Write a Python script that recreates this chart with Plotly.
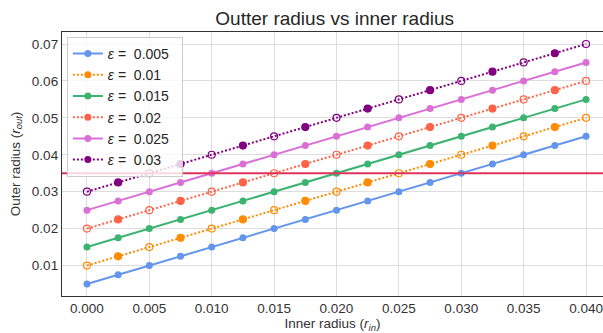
import plotly.graph_objects as go

# Data
inner_radius = [0.0, 0.0025, 0.005, 0.0075, 0.01, 0.0125, 0.015, 0.0175, 0.02,
                0.0225, 0.025, 0.0275, 0.03, 0.0325, 0.035, 0.0375, 0.04]
epsilons = [0.005, 0.01, 0.015, 0.02, 0.025, 0.03]
eps_labels = ["0.005", "0.01", "0.015", "0.02", "0.025", "0.03"]
outer_005 = [0.005, 0.0075, 0.01, 0.0125, 0.015, 0.0175, 0.02, 0.0225, 0.025, 0.0275, 0.03, 0.0325, 0.035, 0.0375, 0.04, 0.0425, 0.045]
outer_010 = [0.01, 0.0125, 0.015, 0.0175, 0.02, 0.0225, 0.025, 0.0275, 0.03, 0.0325, 0.035, 0.0375, 0.04, 0.0425, 0.045, 0.0475, 0.05]
outer_015 = [0.015, 0.0175, 0.02, 0.0225, 0.025, 0.0275, 0.03, 0.0325, 0.035, 0.0375, 0.04, 0.0425, 0.045, 0.0475, 0.05, 0.0525, 0.055]
outer_020 = [0.02, 0.0225, 0.025, 0.0275, 0.03, 0.0325, 0.035, 0.0375, 0.04, 0.0425, 0.045, 0.0475, 0.05, 0.0525, 0.055, 0.0575, 0.06]
outer_025 = [0.025, 0.0275, 0.03, 0.0325, 0.035, 0.0375, 0.04, 0.0425, 0.045, 0.0475, 0.05, 0.0525, 0.055, 0.0575, 0.06, 0.0625, 0.065]
outer_030 = [0.03, 0.0325, 0.035, 0.0375, 0.04, 0.0425, 0.045, 0.0475, 0.05, 0.0525, 0.055, 0.0575, 0.06, 0.0625, 0.065, 0.0675, 0.07]
outer_series = [outer_005, outer_010, outer_015, outer_020, outer_025, outer_030]
threshold = 0.035
x_ticks = [0.0, 0.005, 0.01, 0.015, 0.02, 0.025, 0.03, 0.035, 0.04]
y_ticks = [0.01, 0.02, 0.03, 0.04, 0.05, 0.06, 0.07]

colors = ["#6495ED", "#FF8C00", "#3CB371", "#FF6347", "#DA70D6", "#800080"]
dotted = [False, True, False, True, False, True]

fig = go.Figure()

for i, (lab, ys) in enumerate(zip(eps_labels, outer_series)):
    c = colors[i]
    name = "<i>ε</i> =  " + lab + "&nbsp;&nbsp;"
    if not dotted[i]:
        fig.add_trace(go.Scatter(
            x=inner_radius, y=ys, mode="lines+markers", name=name,
            line=dict(color=c, width=2),
            marker=dict(color=c, size=7, symbol="circle"),
            legendgroup=lab))
    else:
        symbols = ["circle-open" if k % 2 == 0 else "circle" for k in range(len(inner_radius))]
        fig.add_trace(go.Scatter(
            x=inner_radius, y=ys, mode="lines+markers", showlegend=False,
            line=dict(color=c, width=2, dash="2px,2px"),
            marker=dict(color=c, size=7, symbol=symbols, line=dict(color=c, width=1.2)),
            legendgroup=lab))
        fig.add_trace(go.Scatter(
            x=[None], y=[None], mode="lines+markers", name=name,
            line=dict(color=c, width=2, dash="2px,2px"),
            marker=dict(color=c, size=7, symbol="circle"),
            legendgroup=lab))

fig.add_hline(y=threshold, line=dict(color="#E0335A", width=2), layer="above")

fig.update_layout(
    width=603, height=333,
    margin=dict(l=62, r=0, t=32, b=37),
    paper_bgcolor="white", plot_bgcolor="white",
    font=dict(family="Liberation Sans, Arial, sans-serif", color="#333333", size=13.5),
    title=dict(text="Outter radius vs inner radius", x=0.555, xanchor="center",
               y=0.945, yanchor="middle",
               font=dict(size=19, color="#262626")),
    legend=dict(x=0.009, y=0.981, xanchor="left", yanchor="top",
                bgcolor="rgba(255,255,255,0.8)", bordercolor="#cccccc", borderwidth=1,
                font=dict(size=14, color="#262626"), tracegroupgap=0,
                itemwidth=30),
    showlegend=True,
)

fig.update_xaxes(
    range=[-0.002, 0.04136], tickvals=x_ticks, tickformat=".3f",
    showgrid=True, gridcolor="#dddddd", gridwidth=1,
    showline=True, linecolor="#333333", linewidth=1.3, mirror=True,
    zeroline=False, ticks="", ticklen=0,
    title=dict(text="Inner radius (<i>r</i><sub><i>in</i></sub>)", standoff=6,
               font=dict(size=13.5, color="#333333")),
)
fig.update_yaxes(
    range=[0.00175, 0.07325], tickvals=y_ticks, tickformat=".2f",
    showgrid=True, gridcolor="#dddddd", gridwidth=1,
    showline=True, linecolor="#333333", linewidth=1.3, mirror=False,
    zeroline=False, ticks="", ticklen=0,
    title=dict(text="Outer radius (<i>r</i><sub><i>out</i></sub>)", standoff=8,
               font=dict(size=13.5, color="#333333")),
)

fig.write_html("out.html")
